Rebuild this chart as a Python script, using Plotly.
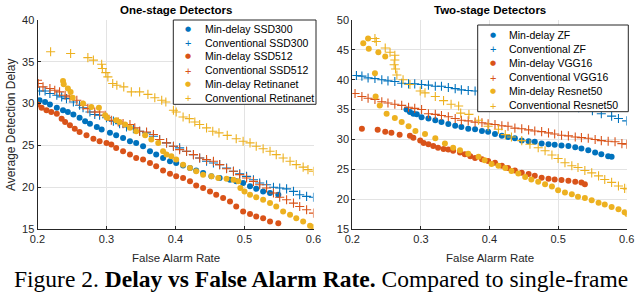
import plotly.graph_objects as go

BLUE = "#0072BD"
ORANGE = "#D95319"
YELLOW = "#EDB120"

# ---------------- One-stage detectors ----------------
ssd300_min_x = [0.203, 0.211, 0.218, 0.228, 0.237, 0.244, 0.252, 0.261, 0.269, 0.276, 0.286, 0.293, 0.305, 0.314, 0.324, 0.334, 0.343, 0.353, 0.363, 0.372, 0.382, 0.392, 0.401, 0.411, 0.421, 0.430, 0.440, 0.452, 0.464, 0.479, 0.488, 0.498, 0.508, 0.517, 0.527, 0.537, 0.549]
ssd300_min_y = [30.4, 30.2, 29.9, 29.5, 29.2, 29.0, 28.7, 28.3, 27.9, 27.6, 27.2, 26.9, 26.5, 26.2, 25.9, 25.5, 25.3, 24.9, 24.3, 23.9, 23.5, 23.1, 22.9, 22.6, 22.3, 22.0, 21.7, 21.3, 21.1, 20.9, 20.7, 20.5, 20.1, 19.8, 19.5, 19.3, 19.1]

ssd300_conv_x = [0.203, 0.211, 0.218, 0.228, 0.235, 0.242, 0.252, 0.261, 0.266, 0.276, 0.283, 0.290, 0.300, 0.310, 0.319, 0.329, 0.339, 0.348, 0.358, 0.368, 0.377, 0.387, 0.397, 0.406, 0.416, 0.426, 0.435, 0.445, 0.455, 0.464, 0.474, 0.484, 0.493, 0.503, 0.513, 0.522, 0.532, 0.542, 0.551, 0.561, 0.571, 0.580, 0.590, 0.600]
ssd300_conv_y = [31.5, 31.5, 31.2, 31.0, 30.8, 30.6, 30.2, 29.8, 29.5, 29.0, 28.7, 28.6, 28.3, 27.9, 27.6, 27.2, 27.0, 26.7, 26.5, 26.1, 25.7, 25.3, 24.9, 24.7, 24.3, 23.9, 23.5, 23.1, 22.9, 22.7, 22.3, 21.9, 21.6, 21.3, 20.9, 20.5, 20.3, 20.0, 19.9, 19.8, 19.5, 19.1, 18.9, 18.8]

ssd512_min_x = [0.200, 0.206, 0.213, 0.220, 0.228, 0.235, 0.240, 0.247, 0.254, 0.261, 0.271, 0.281, 0.290, 0.300, 0.307, 0.314, 0.324, 0.334, 0.343, 0.353, 0.363, 0.372, 0.382, 0.392, 0.401, 0.411, 0.421, 0.430, 0.440, 0.450, 0.459, 0.469, 0.479, 0.488, 0.498, 0.508, 0.517, 0.527, 0.537, 0.549]
ssd512_min_y = [29.9, 29.5, 29.2, 29.0, 28.8, 28.2, 27.8, 27.4, 27.0, 26.6, 26.2, 25.8, 25.5, 25.3, 25.1, 24.7, 24.3, 23.9, 23.5, 23.3, 22.9, 22.5, 22.0, 21.6, 21.3, 21.1, 20.7, 20.2, 19.9, 19.5, 19.1, 18.7, 18.3, 17.7, 17.1, 16.8, 16.5, 16.3, 15.9, 15.7]

ssd512_conv_x = [0.200, 0.201, 0.208, 0.218, 0.225, 0.232, 0.240, 0.247, 0.257, 0.266, 0.273, 0.283, 0.290, 0.298, 0.307, 0.317, 0.324, 0.334, 0.341, 0.348, 0.358, 0.368, 0.377, 0.387, 0.397, 0.406, 0.416, 0.426, 0.435, 0.445, 0.455, 0.464, 0.474, 0.484, 0.493, 0.503, 0.513, 0.522, 0.532, 0.542, 0.551, 0.561, 0.571, 0.580, 0.590, 0.600]
ssd512_conv_y = [32.8, 32.4, 32.0, 31.8, 31.6, 31.4, 31.0, 30.8, 30.4, 29.8, 29.4, 29.0, 29.0, 28.6, 28.0, 27.8, 27.6, 27.5, 27.1, 26.7, 26.6, 26.3, 25.7, 25.3, 24.9, 24.5, 24.3, 23.9, 23.5, 23.3, 23.1, 22.7, 22.2, 21.9, 21.5, 21.1, 20.7, 20.3, 19.9, 19.3, 18.8, 18.5, 18.1, 17.7, 17.3, 16.9]

retina_min_x = [0.237, 0.238, 0.244, 0.248, 0.251, 0.266, 0.278, 0.289, 0.298, 0.301, 0.314, 0.319, 0.327, 0.334, 0.343, 0.356, 0.365, 0.375, 0.382, 0.387, 0.394, 0.401, 0.411, 0.421, 0.430, 0.440, 0.452, 0.462, 0.474, 0.484, 0.491, 0.494, 0.500, 0.508, 0.517, 0.527, 0.537, 0.546, 0.556, 0.566, 0.575, 0.585, 0.595, 0.600]
retina_min_y = [32.7, 32.3, 31.8, 31.4, 30.7, 30.0, 29.6, 29.5, 28.6, 28.3, 28.0, 27.8, 27.5, 27.1, 26.7, 26.2, 25.7, 25.3, 24.3, 23.9, 23.7, 23.3, 22.7, 22.3, 21.9, 21.5, 21.3, 21.1, 21.0, 20.9, 20.7, 19.9, 19.5, 19.1, 18.8, 18.5, 18.1, 17.7, 17.1, 16.7, 16.3, 15.9, 15.4, 15.2]

retina_conv_x = [0.219, 0.248, 0.273, 0.281, 0.293, 0.294, 0.299, 0.302, 0.309, 0.315, 0.325, 0.336, 0.348, 0.360, 0.370, 0.380, 0.386, 0.397, 0.401, 0.411, 0.420, 0.428, 0.435, 0.445, 0.454, 0.463, 0.475, 0.488, 0.498, 0.508, 0.517, 0.527, 0.537, 0.546, 0.556, 0.566, 0.575, 0.585, 0.592, 0.600]
retina_conv_y = [36.2, 36.0, 35.5, 35.2, 34.7, 34.2, 33.7, 33.2, 32.4, 32.2, 32.0, 31.4, 31.4, 31.1, 30.7, 30.4, 30.2, 29.2, 29.0, 28.4, 28.2, 27.8, 27.5, 27.1, 26.7, 26.5, 26.2, 25.8, 25.5, 25.3, 24.9, 24.6, 24.3, 23.9, 23.5, 23.1, 22.7, 22.4, 22.1, 21.9]

# ---------------- Two-stage detectors ----------------
zf_min_x = [0.279, 0.284, 0.289, 0.294, 0.301, 0.311, 0.321, 0.330, 0.340, 0.350, 0.359, 0.369, 0.379, 0.389, 0.398, 0.408, 0.418, 0.427, 0.437, 0.447, 0.457, 0.466, 0.476, 0.486, 0.495, 0.505, 0.515, 0.525, 0.534, 0.544, 0.554, 0.563, 0.573, 0.578]
zf_min_y = [35.0, 34.6, 34.3, 34.2, 33.7, 33.5, 33.2, 32.9, 32.6, 32.3, 32.1, 31.8, 31.7, 31.4, 31.3, 30.9, 30.6, 30.4, 30.2, 29.8, 29.7, 29.6, 29.3, 29.2, 29.1, 29.0, 28.9, 28.7, 28.5, 28.2, 27.8, 27.5, 27.2, 27.1]

zf_conv_x = [0.206, 0.214, 0.223, 0.233, 0.243, 0.252, 0.262, 0.272, 0.282, 0.291, 0.301, 0.311, 0.321, 0.330, 0.340, 0.350, 0.359, 0.369, 0.379, 0.389, 0.41, 0.43, 0.45, 0.47, 0.49, 0.51, 0.53, 0.55, 0.563, 0.578, 0.588, 0.600]
zf_conv_y = [40.7, 40.6, 40.3, 40.2, 40.0, 39.8, 39.7, 39.4, 39.3, 39.3, 39.2, 39.1, 38.9, 38.9, 38.7, 38.5, 38.3, 38.2, 38.1, 37.9, 37.7, 37.4, 37.0, 36.6, 36.2, 35.8, 35.3, 34.8, 34.3, 33.9, 33.5, 33.1]

vgg_min_x = [0.214, 0.237, 0.248, 0.257, 0.269, 0.284, 0.289, 0.299, 0.304, 0.311, 0.318, 0.325, 0.333, 0.340, 0.347, 0.357, 0.364, 0.372, 0.379, 0.389, 0.398, 0.408, 0.418, 0.427, 0.437, 0.447, 0.457, 0.466, 0.476, 0.486, 0.495, 0.505, 0.515, 0.525, 0.534, 0.539]
vgg_min_y = [31.8, 31.6, 31.3, 31.1, 30.8, 30.6, 30.3, 29.8, 29.4, 29.2, 28.9, 28.6, 28.4, 28.3, 28.1, 27.8, 27.5, 27.2, 26.9, 26.7, 26.4, 26.1, 25.6, 25.2, 24.8, 24.4, 24.2, 23.9, 23.6, 23.4, 23.3, 23.2, 23.1, 22.9, 22.8, 22.5]

vgg_conv_x = [0.204, 0.214, 0.223, 0.233, 0.243, 0.252, 0.262, 0.272, 0.282, 0.291, 0.301, 0.311, 0.321, 0.330, 0.340, 0.350, 0.359, 0.369, 0.379, 0.389, 0.398, 0.408, 0.418, 0.427, 0.437, 0.447, 0.457, 0.466, 0.476, 0.486, 0.495, 0.505, 0.515, 0.525, 0.534, 0.544, 0.554, 0.563, 0.573, 0.583, 0.593, 0.600]
vgg_conv_y = [37.7, 37.2, 36.9, 36.7, 36.3, 36.1, 35.9, 35.7, 35.4, 35.2, 35.0, 34.3, 34.2, 34.0, 33.8, 33.5, 33.2, 33.1, 32.9, 32.8, 32.6, 32.5, 32.3, 32.2, 31.9, 31.8, 31.6, 31.4, 31.3, 31.1, 30.9, 30.7, 30.6, 30.4, 30.3, 30.2, 30.0, 29.8, 29.7, 29.6, 29.3, 29.2]

res_min_x = [0.216, 0.223, 0.224, 0.238, 0.248, 0.233, 0.234, 0.240, 0.250, 0.262, 0.272, 0.282, 0.292, 0.306, 0.321, 0.335, 0.347, 0.357, 0.369, 0.384, 0.393, 0.403, 0.413, 0.423, 0.432, 0.442, 0.452, 0.461, 0.471, 0.481, 0.491, 0.500, 0.510, 0.520, 0.529, 0.539, 0.549, 0.559, 0.568, 0.578, 0.588, 0.597, 0.601]
res_min_y = [46.1, 46.9, 45.2, 44.6, 43.9, 41.1, 37.2, 35.7, 34.3, 33.6, 32.9, 32.2, 31.4, 30.9, 30.2, 29.3, 28.6, 28.2, 27.6, 27.1, 26.5, 25.9, 25.6, 25.2, 24.7, 24.3, 23.7, 23.3, 22.9, 22.5, 22.1, 21.5, 21.1, 20.8, 20.4, 20.2, 19.8, 19.4, 19.1, 18.7, 18.3, 17.8, 17.5]

res_conv_x = [0.233, 0.235, 0.248, 0.255, 0.262, 0.262, 0.261, 0.263, 0.265, 0.274, 0.284, 0.299, 0.306, 0.321, 0.333, 0.344, 0.355, 0.358, 0.370, 0.384, 0.398, 0.413, 0.423, 0.432, 0.447, 0.459, 0.471, 0.481, 0.491, 0.500, 0.510, 0.520, 0.529, 0.539, 0.549, 0.559, 0.568, 0.578, 0.588, 0.597, 0.601]
res_conv_y = [46.9, 46.4, 45.3, 44.6, 44.1, 43.3, 42.5, 41.8, 40.8, 40.0, 39.2, 38.1, 37.8, 37.2, 36.5, 35.9, 35.6, 34.4, 34.2, 33.2, 32.2, 31.7, 30.8, 30.4, 29.8, 29.2, 28.6, 28.1, 27.4, 26.8, 26.1, 25.6, 25.3, 24.8, 24.4, 23.9, 23.3, 22.8, 22.2, 21.8, 21.7]

x_ticks = [0.2, 0.3, 0.4, 0.5, 0.6]
x_tick_labels = ["0.2", "0.3", "0.4", "0.5", "0.6"]
left_y_ticks = [15, 20, 25, 30, 35, 40]
right_y_ticks = [15, 20, 25, 30, 35, 40, 45, 50]

left_series = [
    ("Min-delay SSD300", ssd300_min_x, ssd300_min_y, BLUE, "dot"),
    ("Conventional SSD300", ssd300_conv_x, ssd300_conv_y, BLUE, "plus"),
    ("Min-delay SSD512", ssd512_min_x, ssd512_min_y, ORANGE, "dot"),
    ("Conventional SSD512", ssd512_conv_x, ssd512_conv_y, ORANGE, "plus"),
    ("Min-delay Retinanet", retina_min_x, retina_min_y, YELLOW, "dot"),
    ("Conventional Retinanet", retina_conv_x, retina_conv_y, YELLOW, "plus"),
]
right_series = [
    ("Min-delay ZF", zf_min_x, zf_min_y, BLUE, "dot"),
    ("Conventional ZF", zf_conv_x, zf_conv_y, BLUE, "plus"),
    ("Min-delay VGG16", vgg_min_x, vgg_min_y, ORANGE, "dot"),
    ("Conventional VGG16", vgg_conv_x, vgg_conv_y, ORANGE, "plus"),
    ("Min-delay Resnet50", res_min_x, res_min_y, YELLOW, "dot"),
    ("Conventional Resnet50", res_conv_x, res_conv_y, YELLOW, "plus"),
]

W, H = 640, 293
def px(v):
    return v / W
def py(v):
    return 1 - v / H

AX = "#262626"
GRID = "#e3e3e3"
SANS = "Liberation Sans, Arial"
tickfont = dict(family=SANS, size=11, color=AX)

fig = go.Figure()


def add(series, xa, ya):
    for name, xs, ys, col, kind in series:
        if kind == "dot":
            marker = dict(symbol="circle", size=6, color=col, line=dict(width=0))
        else:
            marker = dict(symbol="cross-thin", size=6.5, color=col, line=dict(width=1.1, color=col))
        fig.add_trace(go.Scatter(x=xs, y=ys, mode="markers", name=name, marker=marker,
                                 xaxis=xa, yaxis=ya, showlegend=False))


add(left_series, "x", "y")
add(right_series, "x2", "y2")

common_x = dict(range=[0.2, 0.6], tickvals=x_ticks, ticktext=x_tick_labels, showgrid=True,
                gridcolor=GRID, gridwidth=1, showline=True, linecolor=AX, linewidth=1,
                ticks="inside", ticklen=3, tickcolor=AX, tickfont=tickfont, zeroline=False,
                automargin=False)
common_y = dict(showgrid=True, gridcolor=GRID, gridwidth=1, showline=True, linecolor=AX, linewidth=1,
                ticks="inside", ticklen=3, tickcolor=AX, tickfont=tickfont, zeroline=False,
                automargin=False)

shapes = []
annotations = []


def legend_box(series, x0, x1, y0, y1, first_y, step, sym_x, text_x):
    shapes.append(dict(type="rect", xref="paper", yref="paper", x0=px(x0), x1=px(x1), y0=py(y1), y1=py(y0),
                       fillcolor="white", line=dict(color=AX, width=1), layer="above"))
    for i, (name, _, _, col, kind) in enumerate(series):
        yy = first_y + step * i
        if kind == "dot":
            annotations.append(dict(text="●", x=px(sym_x), y=py(yy), xref="paper", yref="paper",
                                    xanchor="center", yanchor="middle", showarrow=False,
                                    font=dict(family="DejaVu Sans", size=7, color=col)))
        else:
            annotations.append(dict(text="+", x=px(sym_x), y=py(yy + 0.5), xref="paper", yref="paper",
                                    xanchor="center", yanchor="middle", showarrow=False,
                                    font=dict(family=SANS, size=11, color=col)))
        annotations.append(dict(text=name, x=px(text_x), y=py(yy), xref="paper", yref="paper",
                                xanchor="left", yanchor="middle", showarrow=False,
                                font=dict(family=SANS, size=10.5, color="black")))


legend_box(left_series, 173.3, 316, 20, 104.3, 29, 13.75, 188, 203)
legend_box(right_series, 477.7, 628.3, 25, 111.7, 35, 14.0, 493.3, 507)

L0, L1 = 37.5, 313.5
R0, R1 = 352.3, 626.7
annotations += [
    dict(text="<b>One-stage Detectors</b>", x=px((L0 + L1) / 2), y=py(10.5), xref="paper", yref="paper",
         xanchor="center", yanchor="middle", showarrow=False, font=dict(family=SANS, size=11.5, color="black")),
    dict(text="<b>Two-stage Detectors</b>", x=px((R0 + R1) / 2), y=py(10.5), xref="paper", yref="paper",
         xanchor="center", yanchor="middle", showarrow=False, font=dict(family=SANS, size=11.5, color="black")),
    dict(text="False Alarm Rate", x=px((L0 + L1) / 2), y=py(258), xref="paper", yref="paper",
         xanchor="center", yanchor="middle", showarrow=False, font=dict(family=SANS, size=11.5, color=AX)),
    dict(text="False Alarm Rate", x=px((R0 + R1) / 2), y=py(258), xref="paper", yref="paper",
         xanchor="center", yanchor="middle", showarrow=False, font=dict(family=SANS, size=11.5, color=AX)),
    dict(text="Average Detection Delay", x=px(11), y=py(125), xref="paper", yref="paper", textangle=-90,
         xanchor="center", yanchor="middle", showarrow=False, font=dict(family=SANS, size=12, color=AX)),
    dict(text="Figure 2. <b>Delay vs False Alarm Rate.</b> Compared to single-frame", x=px(321), y=py(278.5),
         xref="paper", yref="paper", xanchor="center", yanchor="middle", showarrow=False,
         font=dict(family="Liberation Serif, Times New Roman", size=23.5, color="black")),
]

fig.update_layout(
    width=W, height=H,
    margin=dict(l=0, r=0, t=0, b=0),
    paper_bgcolor="white", plot_bgcolor="white",
    showlegend=False,
    hovermode=False,
    xaxis=dict(domain=[px(L0), px(L1)], anchor="y", **common_x),
    yaxis=dict(domain=[py(229), py(20)], anchor="x", range=[15, 40], tickvals=left_y_ticks, **common_y),
    xaxis2=dict(domain=[px(R0), px(R1)], anchor="y2", **common_x),
    yaxis2=dict(domain=[py(229), py(20)], anchor="x2", range=[15, 50], tickvals=right_y_ticks, **common_y),
    shapes=shapes,
    annotations=annotations,
)

fig.write_html("out.html", config={"displayModeBar": False},
               post_script="document.body.style.margin='0';document.body.style.padding='0';")
